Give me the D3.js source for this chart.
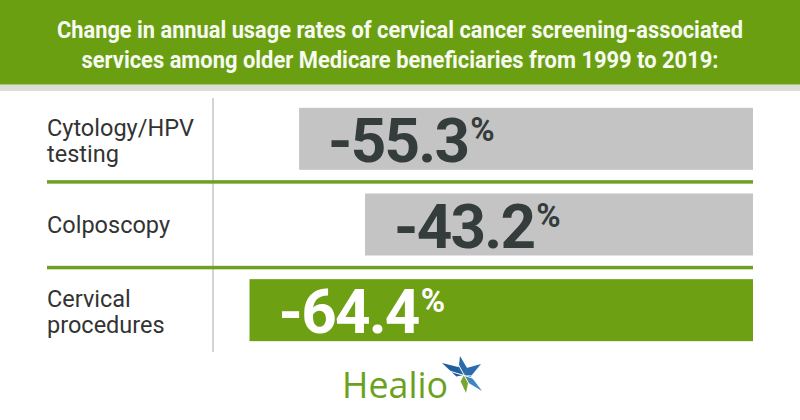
<!DOCTYPE html>
<html><head><meta charset="utf-8">
<script src="https://cdn.jsdelivr.net/npm/d3@7"></script>
<style>body{margin:0;background:#fff;} svg{display:block}</style>
</head><body><svg id="c" width="800" height="420"></svg>
<script>
const titleLines = ["Change in annual usage rates of cervical cancer screening-associated", "services among older Medicare beneficiaries from 1999 to 2019:"];
const categories = ["Cytology/HPV testing", "Colposcopy", "Cervical procedures"];
const labelLines = [["Cytology/HPV", "testing"], ["Colposcopy"], ["Cervical", "procedures"]];
const values = [-55.3, -43.2, -64.4];
const highlight = [false, false, true];
const brand = "Healio";

const W = 800, H = 420;
const green = "#6b9f12", gray = "#c4c4c4", dark = "#353c3c";
const svg = d3.select("#c");

// header
svg.append("rect").attr("x", 0).attr("y", 0).attr("width", W).attr("height", 84).attr("fill", green);
svg.append("rect").attr("x", 0).attr("y", 84).attr("width", W).attr("height", 1.5).attr("fill", "#a9c77a");
svg.append("rect").attr("x", 0).attr("y", 85.5).attr("width", W).attr("height", 5.5).attr("fill", "#dcdcdc");
const titleW = [686, 637];
titleLines.forEach((t, i) => {
  svg.append("text").attr("x", W / 2).attr("y", 38 + i * 30).attr("text-anchor", "middle")
    .attr("font-family", "Roboto, sans-serif").attr("font-weight", 700).attr("font-size", 23.5)
    .attr("fill", "#f6faf0").attr("textLength", titleW[i]).attr("lengthAdjust", "spacingAndGlyphs").text(t);
});

// scales
const y = d3.scaleBand().domain(categories).range([96, 353]).paddingInner(0.2763).paddingOuter(0.13815);
const x = d3.scaleLinear().domain([28, -70]).range([753, 219]);
const right = x(28);

// vertical divider
svg.append("line").attr("x1", 213).attr("x2", 213).attr("y1", 98).attr("y2", 352)
  .attr("stroke", "#a8a8a8").attr("stroke-width", 1);

// separators
categories.slice(0, -1).forEach(c => {
  const yy = y(c) + y.bandwidth() + (y.step() - y.bandwidth()) / 2;
  svg.append("rect").attr("x", 47).attr("y", yy - 1.5).attr("width", right - 47).attr("height", 3.5).attr("fill", "#6fa024");
});

// bars
const data = categories.map((c, i) => ({ c, v: values[i], hl: highlight[i], lines: labelLines[i] }));
const g = svg.append("g");
g.selectAll("rect.bar").data(data).join("rect").attr("class", "bar")
  .attr("x", d => x(d.v)).attr("y", d => y(d.c))
  .attr("width", d => right - x(d.v)).attr("height", y.bandwidth())
  .attr("fill", d => d.hl ? "#6ea014" : gray);

// value labels
const vt = g.selectAll("text.val").data(data).join("text").attr("class", "val")
  .attr("x", d => x(d.v) + 29).attr("y", d => y(d.c) + y.bandwidth() / 2 + 23)
  .attr("font-family", "Roboto, sans-serif").attr("font-weight", 700).attr("font-size", 62)
  .attr("letter-spacing", -1.8)
  .attr("fill", d => d.hl ? "#ffffff" : dark);
vt.append("tspan").text(d => d.v.toFixed(1));
vt.append("tspan").attr("font-size", 33).attr("letter-spacing", 0).attr("dx", 2).attr("dy", -21).text("%");

// category labels
data.forEach(d => {
  const cy = y(d.c) + y.bandwidth() / 2;
  const t = svg.append("text").attr("font-family", "Roboto, sans-serif").attr("font-size", 23.5).attr("fill", "#333");
  if (d.lines.length === 1) {
    t.append("tspan").attr("x", 47).attr("y", cy + 8.5).text(d.lines[0]);
  } else {
    d.lines.forEach((l, k) => t.append("tspan").attr("x", 47).attr("y", cy - 3 + k * 26).text(l));
  }
});

// logo
svg.append("text").attr("x", 342).attr("y", 398).attr("font-family", "'Open Sans', sans-serif")
  .attr("font-size", 36).attr("fill", "#6ba21c").attr("textLength", 106).attr("lengthAdjust", "spacingAndGlyphs").text(brand);
const cx = 464, cyS = 375;
function arm(tx, ty, w, col) {
  const dx = tx - cx, dy = ty - cyS, len = Math.hypot(dx, dy);
  const ux = dx / len, uy = dy / len, px = -uy, py = ux;
  const p = [[tx, ty], [cx + ux * 6 + px * w, cyS + uy * 6 + py * w], [cx, cyS], [cx + ux * 6 - px * w, cyS + uy * 6 - py * w]];
  svg.append("path").attr("d", "M" + p.map(q => q.join(",")).join("L") + "Z").attr("fill", col);
}
arm(442, 363, 5, "#1f5f9f");
arm(460, 356, 4.5, "#2a6aaa");
arm(481, 364, 4.5, "#2b6cad");
arm(482, 391, 3.5, "#3d86c4");
arm(466, 393, 4, "#76a830");
svg.append("line").attr("x1", 446).attr("y1", 370).attr("x2", 479).attr("y2", 380).attr("stroke", "#fff").attr("stroke-width", 1);
svg.append("line").attr("x1", 456).attr("y1", 360).attr("x2", 471).attr("y2", 388).attr("stroke", "#fff").attr("stroke-width", 1);
</script></body></html>
